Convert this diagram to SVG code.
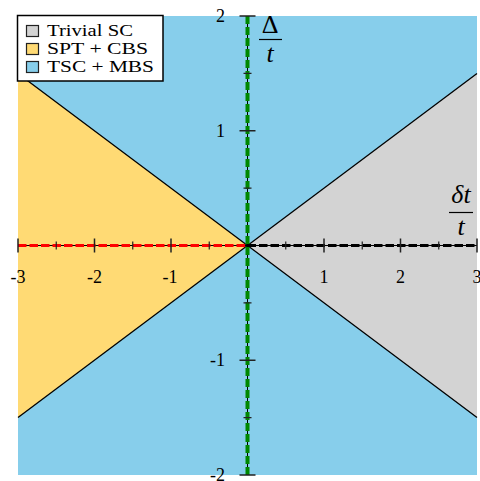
<svg xmlns="http://www.w3.org/2000/svg" width="480" height="481" viewBox="0 0 480 481">
<style>
text{font-family:"Liberation Serif","DejaVu Serif",serif;fill:#000}
.tl{font-size:18px}
.ylab{text-anchor:end}
.xlab{text-anchor:middle}
.bound{stroke:#000;stroke-width:1.3;fill:none}
.tick{stroke:#222;stroke-width:1.5}
.mtick{stroke:#222;stroke-width:1.2}
.frac{font-size:26px;text-anchor:middle}
.leg{font-size:16px}
</style>
<rect x="0" y="0" width="480" height="481" fill="#fff"/>
<g id="regions">
<rect id="tsc-mbs" x="18" y="16" width="459" height="459" fill="#87CEEB"/>
<polygon id="trivial-sc" points="247.5,245.5 477,73.4 477,417.6" fill="#D3D3D3"/>
<polygon id="spt-cbs" points="247.5,245.5 18,73.4 18,417.6" fill="#FFDA74"/>
<polyline class="bound" points="18,73.4 247.5,245.5 477,417.6"/>
<polyline class="bound" points="18,417.6 247.5,245.5 477,73.4"/>
</g>
<g id="connectors">
<line x1="18" y1="245.5" x2="477" y2="245.5" stroke="#000" stroke-width="1"/>
<line x1="247.5" y1="16" x2="247.5" y2="475" stroke="#000" stroke-width="1"/>
<line x1="18" y1="245.5" x2="247.5" y2="245.5" stroke="#FF0000" stroke-width="3.2" stroke-dasharray="8.5,3"/>
<line x1="247.5" y1="245.5" x2="477" y2="245.5" stroke="#000" stroke-width="3.2" stroke-dasharray="8.5,3"/>
<line x1="247.5" y1="16" x2="247.5" y2="475" stroke="#008800" stroke-width="4" stroke-dasharray="8,3"/>
</g>
<g id="ticks">
<path class="tick" d="M18,238.5V252.5M94.5,238.5V252.5M171,238.5V252.5M324,238.5V252.5M400.5,238.5V252.5M477,238.5V252.5"/>
<path class="mtick" d="M56.25,241.5V249.5M132.75,241.5V249.5M209.25,241.5V249.5M285.75,241.5V249.5M362.25,241.5V249.5M438.75,241.5V249.5"/>
<path class="tick" d="M239.5,16H255.5M239.5,130.75H255.5M239.5,360.25H255.5M239.5,475H255.5"/>
<path class="mtick" d="M243.5,73.4H251.5M243.5,188.1H251.5M243.5,302.9H251.5M243.5,417.6H251.5"/>
</g>
<g id="tick-labels" class="tl">
<text class="xlab" x="18" y="283">-3</text>
<text class="xlab" x="94.5" y="283">-2</text>
<text class="xlab" x="170" y="283">-1</text>
<text class="xlab" x="324" y="283">1</text>
<text class="xlab" x="400.5" y="283">2</text>
<text class="xlab" x="477" y="283">3</text>
<text class="ylab" x="225" y="22">2</text>
<text class="ylab" x="225" y="137">1</text>
<text class="ylab" x="225" y="366">-1</text>
<text class="ylab" x="225" y="481">-2</text>
</g>
<g id="y-axis-label">
<text class="frac" x="270" y="33">Δ</text>
<line x1="259" y1="39.5" x2="282" y2="39.5" stroke="#000" stroke-width="1.2"/>
<text class="frac" x="270" y="62" font-style="italic">t</text>
</g>
<g id="x-axis-label">
<text class="frac" x="461" y="203" font-style="italic">δt</text>
<line x1="449" y1="212.5" x2="473" y2="212.5" stroke="#000" stroke-width="1.2"/>
<text class="frac" x="461" y="235" font-style="italic">t</text>
</g>
<g id="legend">
<rect x="17.5" y="15.5" width="145.5" height="65.5" fill="#fff" stroke="#000" stroke-width="1.5"/>
<rect x="26.5" y="25.5" width="12" height="11" fill="#D3D3D3" stroke="#222" stroke-width="1.2"/>
<rect x="26.5" y="43.5" width="12" height="11" fill="#FFDA74" stroke="#222" stroke-width="1.2"/>
<rect x="26.5" y="61.5" width="12" height="11" fill="#87CEEB" stroke="#222" stroke-width="1.2"/>
<text class="leg" x="47" y="36" textLength="86" lengthAdjust="spacingAndGlyphs">Trivial SC</text>
<text class="leg" x="47" y="54" textLength="101" lengthAdjust="spacingAndGlyphs">SPT + CBS</text>
<text class="leg" x="47" y="72" textLength="107" lengthAdjust="spacingAndGlyphs">TSC + MBS</text>
</g>
</svg>
